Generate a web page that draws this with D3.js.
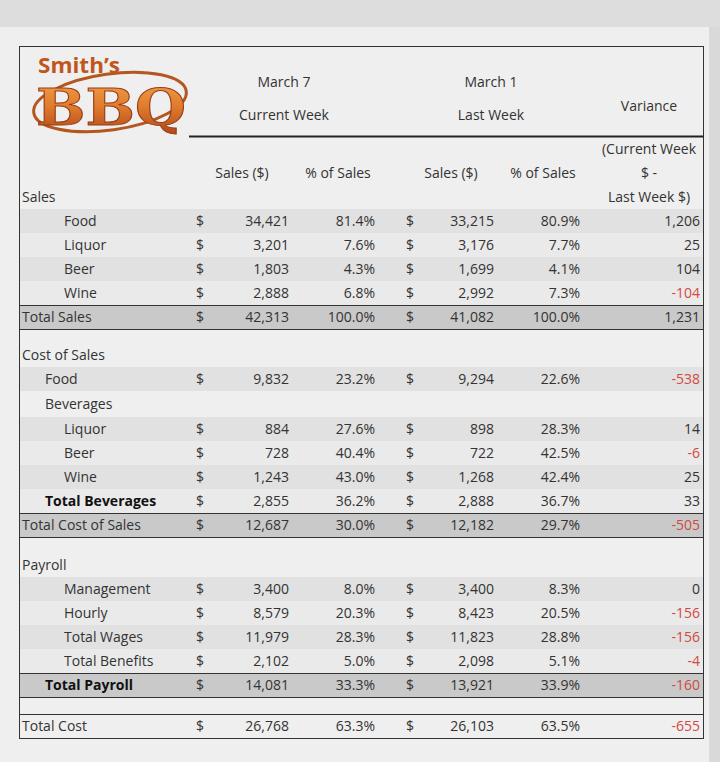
<!DOCTYPE html>
<html>
<head>
<meta charset="utf-8">
<script src="https://cdn.jsdelivr.net/npm/d3@7"></script>
<style>
  body { margin: 0; background: #efefef; }
  svg { display: block; font-family: "Open Sans", "Noto Sans", sans-serif; }
</style>
</head>
<body>
<div></div>
<script>
// table data, one entry per row
var labels = ["Sales", "Food", "Liquor", "Beer", "Wine", "Total Sales", "",
  "Cost of Sales", "Food", "Beverages", "Liquor", "Beer", "Wine", "Total Beverages", "Total Cost of Sales", "",
  "Payroll", "Management", "Hourly", "Total Wages", "Total Benefits", "Total Payroll", "", "Total Cost"];
var currentSales = [null, 34421, 3201, 1803, 2888, 42313, null,
  null, 9832, null, 884, 728, 1243, 2855, 12687, null,
  null, 3400, 8579, 11979, 2102, 14081, null, 26768];
var currentPct = [null, 81.4, 7.6, 4.3, 6.8, 100.0, null,
  null, 23.2, null, 27.6, 40.4, 43.0, 36.2, 30.0, null,
  null, 8.0, 20.3, 28.3, 5.0, 33.3, null, 63.3];
var lastSales = [null, 33215, 3176, 1699, 2992, 41082, null,
  null, 9294, null, 898, 722, 1268, 2888, 12182, null,
  null, 3400, 8423, 11823, 2098, 13921, null, 26103];
var lastPct = [null, 80.9, 7.7, 4.1, 7.3, 100.0, null,
  null, 22.6, null, 28.3, 42.5, 42.4, 36.7, 29.7, null,
  null, 8.3, 20.5, 28.8, 5.1, 33.9, null, 63.5];
var variance = [null, 1206, 25, 104, -104, 1231, null,
  null, -538, null, 14, -6, 25, 33, -505, null,
  null, 0, -156, -156, -4, -160, null, -655];

var headTop = ["March 7", "March 1"];
var headBottom = ["Current Week", "Last Week"];
var subHeads = ["Sales ($)", "% of Sales", "Sales ($)", "% of Sales"];
var varianceHead = ["(Current Week", "$ -", "Last Week $)"];

// row layout (styles only)
var indent = [0, 2, 2, 2, 2, 0, 0, 0, 1, 1, 2, 2, 2, 1, 0, 0, 0, 2, 2, 2, 2, 1, 0, 0];
var bold = [13, 21];
var totalRows = [5, 14, 21];
var darkRows = [1, 3, 8, 10, 12, 17, 19];
var lightRows = [2, 4, 11, 13, 18, 20];
var rowH = labels.map(function(d, i) {
  if (d === "") return [14, 16, 17][[6, 15, 22].indexOf(i)];
  if (d === "Beverages") return 26;
  return 24;
});

var width = 720, height = 762;
var boxL = 19.5, boxR = 703.5, boxT = 46.5, boxB = 738.5, bodyTop = 185;

var starts = [0].concat(Array.from(d3.cumsum(rowH)));
var y = d3.scaleOrdinal().domain(d3.range(labels.length))
    .range(d3.range(labels.length).map(function(i) { return bodyTop + starts[i]; }));

var x = d3.scaleOrdinal()
    .domain(["label0", "label1", "label2", "dollar1", "sales1", "pct1", "dollar2", "sales2", "pct2", "var", "head1", "head2", "headVar"])
    .range([22, 45, 64, 200, 289, 375, 410, 494, 580, 700, 284, 491, 649]);
var subX = [242, 338, 451, 543];

var fmtSales = function(v) { return d3.format(",")(v).replace("\u2212", "-"); };
var fmtPct = function(v) { return d3.format(".1f")(v) + "%"; };

var svg = d3.select("div").append("svg")
    .attr("width", width).attr("height", height);

svg.append("rect").attr("width", width).attr("height", 27).attr("fill", "#dddddd");
svg.append("rect").attr("x", 709).attr("y", 27).attr("width", 11).attr("height", height - 27).attr("fill", "#d9d9d9");

// row bands
var band = svg.append("g");
labels.forEach(function(d, i) {
  var fill = null;
  if (darkRows.indexOf(i) >= 0) fill = "#e1e1e1";
  if (lightRows.indexOf(i) >= 0) fill = "#eaeaea";
  if (totalRows.indexOf(i) >= 0) fill = "#c9c9c9";
  if (fill) band.append("rect").attr("x", boxL).attr("y", y(i)).attr("width", boxR - boxL).attr("height", rowH[i]).attr("fill", fill);
  if (totalRows.indexOf(i) >= 0) {
    [y(i), y(i) + rowH[i]].forEach(function(yy) {
      band.append("line").attr("x1", boxL).attr("x2", boxR).attr("y1", Math.round(yy) + 0.5).attr("y2", Math.round(yy) + 0.5)
          .attr("stroke", "#333").attr("stroke-width", 1);
    });
  }
});
// line above Total Cost
band.append("line").attr("x1", boxL).attr("x2", boxR)
    .attr("y1", y(labels.length - 1) + 0.5).attr("y2", y(labels.length - 1) + 0.5).attr("stroke", "#333");

// border and header rule
svg.append("rect").attr("x", boxL).attr("y", boxT).attr("width", boxR - boxL).attr("height", boxB - boxT)
    .attr("fill", "none").attr("stroke", "#333");
svg.append("line").attr("x1", 189).attr("x2", boxR).attr("y1", 136.5).attr("y2", 136.5)
    .attr("stroke", "#222").attr("stroke-width", 2);

var txt = svg.append("g").attr("fill", "#333").style("font-size", "14px");

// headers
headTop.forEach(function(d, i) {
  txt.append("text").attr("x", x(i ? "head2" : "head1")).attr("y", 87).attr("text-anchor", "middle").text(d);
  txt.append("text").attr("x", x(i ? "head2" : "head1")).attr("y", 120).attr("text-anchor", "middle").text(headBottom[i]);
});
txt.append("text").attr("x", x("headVar")).attr("y", 111).attr("text-anchor", "middle").text("Variance");
subHeads.forEach(function(d, i) {
  txt.append("text").attr("x", subX[i]).attr("y", 178).attr("text-anchor", "middle").text(d);
});
varianceHead.forEach(function(d, i) {
  txt.append("text").attr("x", x("headVar")).attr("y", 154 + i * 24).attr("text-anchor", "middle").text(d);
});

// body rows
labels.forEach(function(d, i) {
  if (d === "") return;
  var cy = y(i) + rowH[i] / 2 + 5;
  txt.append("text").attr("x", x("label" + indent[i])).attr("y", cy)
      .attr("font-weight", bold.indexOf(i) >= 0 ? "bold" : null)
      .attr("fill", bold.indexOf(i) >= 0 ? "#111" : null).text(d);
  if (currentSales[i] == null) return;
  txt.append("text").attr("x", x("dollar1")).attr("y", cy).attr("text-anchor", "middle").text("$");
  txt.append("text").attr("x", x("sales1")).attr("y", cy).attr("text-anchor", "end").text(fmtSales(currentSales[i]));
  txt.append("text").attr("x", x("pct1")).attr("y", cy).attr("text-anchor", "end").text(fmtPct(currentPct[i]));
  txt.append("text").attr("x", x("dollar2")).attr("y", cy).attr("text-anchor", "middle").text("$");
  txt.append("text").attr("x", x("sales2")).attr("y", cy).attr("text-anchor", "end").text(fmtSales(lastSales[i]));
  txt.append("text").attr("x", x("pct2")).attr("y", cy).attr("text-anchor", "end").text(fmtPct(lastPct[i]));
  txt.append("text").attr("x", x("var")).attr("y", cy).attr("text-anchor", "end")
      .attr("fill", variance[i] < 0 ? "#d2493f" : null).text(fmtSales(variance[i]));
});

// logo
var defs = svg.append("defs");
var grad = defs.append("linearGradient").attr("id", "bbq").attr("x1", 0).attr("x2", 0).attr("y1", 0).attr("y2", 1);
grad.append("stop").attr("offset", "0%").attr("stop-color", "#f0a24a");
grad.append("stop").attr("offset", "50%").attr("stop-color", "#de7a2c");
grad.append("stop").attr("offset", "100%").attr("stop-color", "#a9441a");
var logo = svg.append("g");
logo.append("ellipse").attr("cx", 110).attr("cy", 102).attr("rx", 77).attr("ry", 28)
    .attr("transform", "rotate(-8,110,102)")
    .attr("fill", "none").attr("stroke", "#b4561f").attr("stroke-width", 3);
logo.append("text").attr("x", 38).attr("y", 73).attr("textLength", 82).attr("lengthAdjust", "spacingAndGlyphs")
    .attr("fill", "#c0561c").attr("font-weight", "bold").style("font-size", "21px").text("Smith\u2019s");
logo.append("text").attr("x", 36).attr("y", 125).attr("textLength", 150).attr("lengthAdjust", "spacingAndGlyphs")
    .attr("fill", "url(#bbq)").attr("stroke", "#9a3d15").attr("stroke-width", 1)
    .attr("font-family", "DejaVu Serif").attr("font-weight", "bold").style("font-size", "50px").text("BBQ");
</script>
</body>
</html>
